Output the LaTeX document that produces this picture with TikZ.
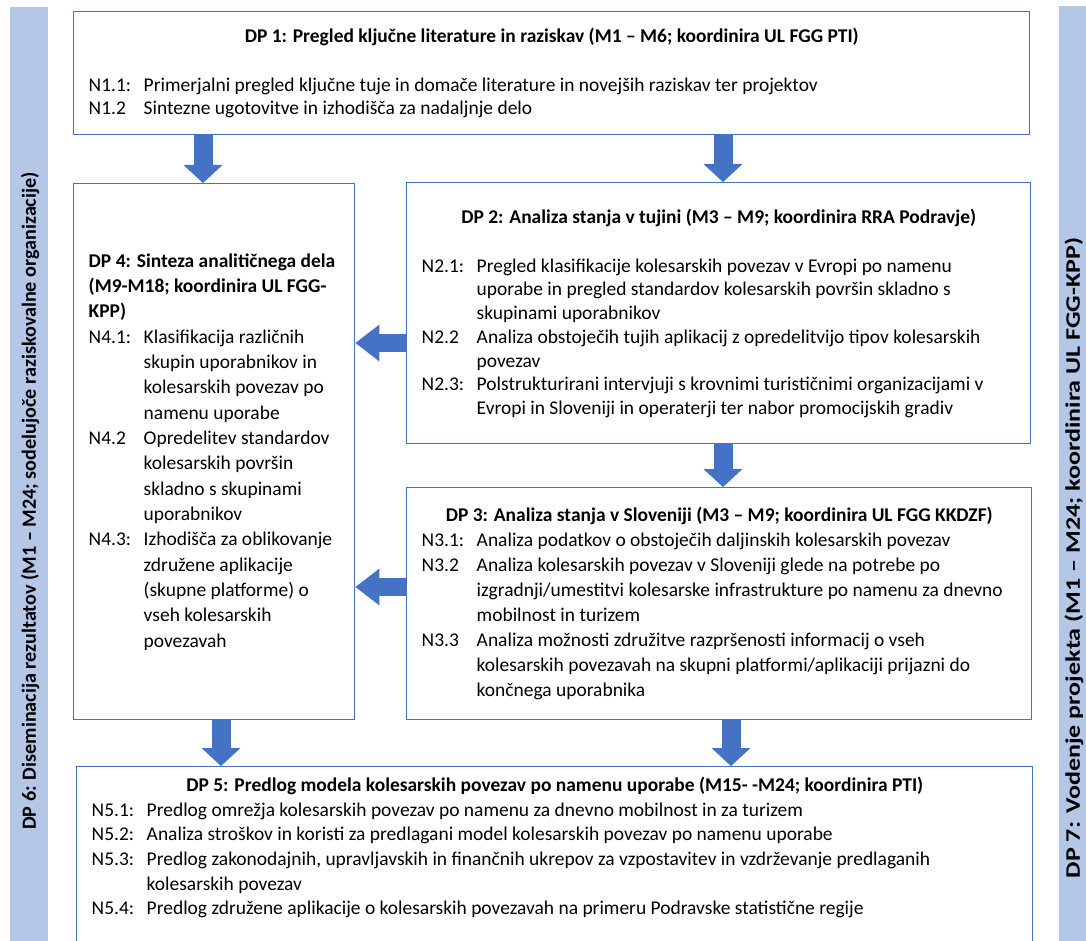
\documentclass[tikz,border=0pt]{standalone}
\usepackage{fontspec}
\setmainfont{Carlito}
\usetikzlibrary{arrows.meta}
\definecolor{wpBlue}{HTML}{4472C4}
\definecolor{barBlue}{HTML}{B4C7E7}
\newlength\wplabel
\setlength\wplabel{41.25pt}
\newcommand\wpfont[1]{\fontsize{14.6}{#1}\selectfont}
\newcommand\wplbl[1]{\makebox[\wplabel][l]{#1}}
\newcommand\wpcont{\hspace*{\wplabel}}

\begin{document}
\begin{tikzpicture}[x=0.75pt, y=-0.75pt,
    wpbox/.style={draw=wpBlue, line width=1.1pt, anchor=north west, align=left,
      inner xsep=11.25pt, inner ysep=0pt},
    blockarrow/.style={wpBlue, line width=14.25pt,
      -{Triangle[width=29.25pt, length=13.5pt, line width=0pt]}},
    sidearrow/.style={wpBlue, line width=13.5pt,
      -{Triangle[width=27.75pt, length=18pt, line width=0pt]}},
    bartext/.style={rotate=90, font=\bfseries\fontsize{#1}{17}\selectfont}]
  \useasboundingbox (0,0) rectangle (1086,941);

  % side bars
  \fill[barBlue] (10,7) rectangle (48,960);
  \fill[barBlue] (1059,6) rectangle (1100,960);
  \node[bartext=15.1] (dp6) at (30,501) {DP 6: Diseminacija rezultatov (M1 – M24; sodelujoče raziskovalne organizacije)};
  \node[bartext=15.5] (dp7) at (1074,558) {\scalebox{1.26}[1]{DP 7: Vodenje projekta (M1 – M24; koordinira UL FGG-KPP)}};

  \node[wpbox, minimum width=717pt, minimum height=92.25pt, font=\wpfont{17}] (dp1) at (73,11)
    {\makebox[694.5pt][c]{\bfseries DP 1: Pregled ključne literature in raziskav (M1 – M6; koordinira UL FGG PTI)}\\[19.75pt]
     \wplbl{N1.1:}Primerjalni pregled ključne tuje in domače literature in novejših raziskav ter projektov\\
     \wplbl{N1.2}Sintezne ugotovitve in izhodišča za nadaljnje delo};

  \node[wpbox, minimum width=210.75pt, minimum height=402pt, font=\wpfont{19}] (dp4) at (73,183)
    {\makebox[188.25pt][l]{\bfseries DP 4: Sinteza analitičnega dela}\\
     \textbf{(M9-M18; koordinira UL FGG-}\\
     \textbf{KPP)}\\
     \wplbl{N4.1:}Klasifikacija različnih\\
     \wpcont skupin uporabnikov in\\
     \wpcont kolesarskih povezav po\\
     \wpcont namenu uporabe\\
     \wplbl{N4.2}Opredelitev standardov\\
     \wpcont kolesarskih površin\\
     \wpcont skladno s skupinami\\
     \wpcont uporabnikov\\
     \wplbl{N4.3:}Izhodišča za oblikovanje\\
     \wpcont združene aplikacije\\
     \wpcont (skupne platforme) o\\
     \wpcont vseh kolesarskih\\
     \wpcont povezavah};

  \node[wpbox, minimum width=468pt, minimum height=195.75pt, font=\wpfont{17.8}] (dp2) at (406,182)
    {\makebox[445.5pt][c]{\bfseries DP 2: Analiza stanja v tujini (M3 – M9; koordinira RRA Podravje)}\\[18.95pt]
     \wplbl{N2.1:}Pregled klasifikacije kolesarskih povezav v Evropi po namenu\\
     \wpcont uporabe in pregled standardov kolesarskih površin skladno s\\
     \wpcont skupinami uporabnikov\\
     \wplbl{N2.2}Analiza obstoječih tujih aplikacij z opredelitvijo tipov kolesarskih\\
     \wpcont povezav\\
     \wplbl{N2.3:}Polstrukturirani intervjuji s krovnimi turističnimi organizacijami v\\
     \wpcont Evropi in Sloveniji in operaterji ter nabor promocijskih gradiv};

  \node[wpbox, minimum width=468.75pt, minimum height=174pt, font=\wpfont{18.75}] (dp3) at (406,487)
    {\makebox[446.25pt][c]{\bfseries DP 3: Analiza stanja v Sloveniji (M3 – M9; koordinira UL FGG KKDZF)}\\
     \wplbl{N3.1:}Analiza podatkov o obstoječih daljinskih kolesarskih povezav\\
     \wplbl{N3.2}Analiza kolesarskih povezav v Sloveniji glede na potrebe po\\
     \wpcont izgradnji/umestitvi kolesarske infrastrukture po namenu za dnevno\\
     \wpcont mobilnost in turizem\\
     \wplbl{N3.3}Analiza možnosti združitve razpršenosti informacij o vseh\\
     \wpcont kolesarskih povezavah na skupni platformi/aplikaciji prijazni do\\
     \wpcont končnega uporabnika};

  \node[wpbox, minimum width=717pt, minimum height=149.25pt, font=\wpfont{18.45}] (dp5) at (76,766)
    {\makebox[694.5pt][c]{\bfseries DP 5: Predlog modela kolesarskih povezav po namenu uporabe (M15- -M24; koordinira PTI)}\\
     \wplbl{N5.1:}Predlog omrežja kolesarskih povezav po namenu za dnevno mobilnost in za turizem\\
     \wplbl{N5.2:}Analiza stroškov in koristi za predlagani model kolesarskih povezav po namenu uporabe\\
     \wplbl{N5.3:}Predlog zakonodajnih, upravljavskih in finančnih ukrepov za vzpostavitev in vzdrževanje predlaganih\\
     \wpcont kolesarskih povezav\\
     \wplbl{N5.4:}Predlog združene aplikacije o kolesarskih povezavah na primeru Podravske statistične regije\\[12pt]
     \mbox{}};

  \draw[blockarrow] (203,0 |- dp1.south) -- (203,0 |- dp4.north);
  \draw[blockarrow] (723,0 |- dp1.south) -- (723,0 |- dp2.north);
  \draw[blockarrow] (723,0 |- dp2.south) -- (723,0 |- dp3.north);
  \draw[sidearrow] (dp2.west |- 0,343) -- (dp4.east |- 0,343);
  \draw[sidearrow] (dp3.west |- 0,587) -- (dp4.east |- 0,587);
  \draw[blockarrow] (221,0 |- dp4.south) -- (221,0 |- dp5.north);
  \draw[blockarrow] (731,0 |- dp3.south) -- (731,0 |- dp5.north);
\end{tikzpicture}
\end{document}
